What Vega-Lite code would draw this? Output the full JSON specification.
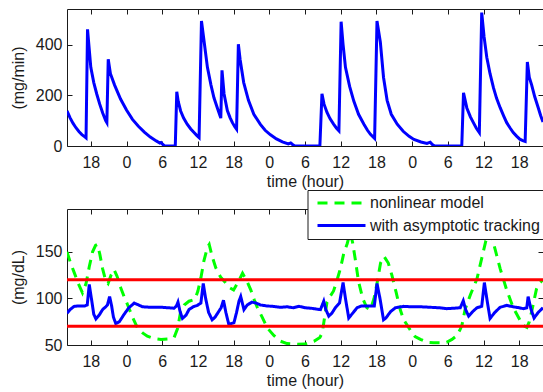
{
  "$schema": "https://vega.github.io/schema/vega-lite/v6.json",
  "autosize": {"type": "pad"},
  "padding": {"left": 9, "top": 8, "right": 0, "bottom": 0},
  "spacing": 63,
  "bounds": "flush",
  "config": {
    "font": "Liberation Sans",
    "view": {"stroke": "#1a1a1a", "strokeWidth": 1},
    "axis": {"domain": false, "grid": false, "tickSize": -5, "tickColor": "#1a1a1a", "tickWidth": 1, "labelFontSize": 16, "labelColor": "#1a1a1a", "titleFontSize": 16, "titleFontWeight": "normal", "titleColor": "#1a1a1a", "labelFont": "Liberation Sans", "titleFont": "Liberation Sans"},
    "axisX": {"labelPadding": 13.5, "titlePadding": 3, "labelFlush": false},
    "axisY": {"labelPadding": 10, "titlePadding": 9}
  },
  "datasets": {
    "infusion": [
      {"hour":14,"rate":138},{"hour":14.5,"rate":112},{"hour":15,"rate":90},{"hour":15.5,"rate":72},{"hour":16,"rate":57},{"hour":16.5,"rate":45},{"hour":17,"rate":36},{"hour":17.2,"rate":32},
      {"hour":17.45,"rate":460},{"hour":18,"rate":310},{"hour":18.5,"rate":250},{"hour":19,"rate":205},{"hour":19.5,"rate":165},{"hour":20,"rate":130},{"hour":20.5,"rate":100},{"hour":20.7,"rate":92},
      {"hour":20.93,"rate":342},{"hour":21.3,"rate":285},{"hour":22,"rate":240},{"hour":23,"rate":185},{"hour":24,"rate":142},{"hour":25,"rate":105},{"hour":26,"rate":78},{"hour":27,"rate":55},{"hour":28,"rate":35},{"hour":29,"rate":20},{"hour":29.6,"rate":12},{"hour":29.8,"rate":14},{"hour":30.1,"rate":6},{"hour":30.4,"rate":0},{"hour":32.2,"rate":0},
      {"hour":32.45,"rate":214},{"hour":32.7,"rate":175},{"hour":33.1,"rate":138},{"hour":33.6,"rate":110},{"hour":34.2,"rate":86},{"hour":34.8,"rate":67},{"hour":35.35,"rate":53},{"hour":35.8,"rate":42},{"hour":36.2,"rate":33},
      {"hour":36.6,"rate":493},{"hour":37,"rate":420},{"hour":37.6,"rate":310},{"hour":38.2,"rate":240},{"hour":38.7,"rate":190},{"hour":39.3,"rate":148},{"hour":39.85,"rate":110},
      {"hour":40.05,"rate":298},{"hour":40.4,"rate":205},{"hour":40.95,"rate":140},{"hour":41.4,"rate":112},{"hour":41.8,"rate":92},{"hour":42.2,"rate":76},{"hour":42.5,"rate":66},
      {"hour":42.8,"rate":401},{"hour":43.1,"rate":340},{"hour":43.7,"rate":250},{"hour":44.5,"rate":180},{"hour":45.4,"rate":125},{"hour":46.5,"rate":85},{"hour":47.3,"rate":62},{"hour":48.2,"rate":44},{"hour":49.2,"rate":28},{"hour":50.2,"rate":16},{"hour":51.2,"rate":8},{"hour":51.6,"rate":12},{"hour":51.9,"rate":6},{"hour":52.3,"rate":0},{"hour":56.5,"rate":0},
      {"hour":56.85,"rate":206},{"hour":57.2,"rate":165},{"hour":57.7,"rate":132},{"hour":58.2,"rate":108},{"hour":58.8,"rate":86},{"hour":59.3,"rate":70},{"hour":59.7,"rate":60},
      {"hour":60.07,"rate":490},{"hour":60.4,"rate":400},{"hour":60.8,"rate":310},{"hour":61.5,"rate":235},{"hour":62.2,"rate":177},{"hour":63,"rate":125},{"hour":63.9,"rate":86},{"hour":64.5,"rate":62},{"hour":65,"rate":46},{"hour":65.7,"rate":30},
      {"hour":66.1,"rate":493},{"hour":66.66,"rate":410},{"hour":67.2,"rate":270},{"hour":67.8,"rate":180},{"hour":68.5,"rate":125},{"hour":69.5,"rate":86},{"hour":70.5,"rate":58},{"hour":71.5,"rate":38},{"hour":72.3,"rate":26},{"hour":73.5,"rate":16},{"hour":74.5,"rate":10},{"hour":75.05,"rate":15},{"hour":75.4,"rate":6},{"hour":75.8,"rate":0},{"hour":80.35,"rate":0},
      {"hour":80.64,"rate":210},{"hour":81.2,"rate":150},{"hour":81.8,"rate":115},{"hour":82.3,"rate":92},{"hour":82.8,"rate":70},{"hour":83.3,"rate":53},
      {"hour":83.7,"rate":526},{"hour":84.1,"rate":430},{"hour":84.55,"rate":350},{"hour":85.1,"rate":285},{"hour":85.67,"rate":230},{"hour":86.2,"rate":188},{"hour":86.8,"rate":151},{"hour":87.4,"rate":118},{"hour":87.9,"rate":92},{"hour":88.5,"rate":70},{"hour":89,"rate":53},{"hour":89.6,"rate":38},{"hour":90.1,"rate":27},{"hour":90.6,"rate":21},{"hour":91,"rate":18},
      {"hour":91.37,"rate":331},{"hour":91.7,"rate":270},{"hour":92.1,"rate":240},{"hour":92.6,"rate":195},{"hour":93.2,"rate":151},{"hour":93.6,"rate":120},{"hour":94,"rate":95}
    ],
    "glucose": [
      {"hour":14,"mgdl":150,"series":"nonlinear model"},{"hour":14.6,"mgdl":138,"series":"nonlinear model"},{"hour":15.2,"mgdl":128,"series":"nonlinear model"},{"hour":15.9,"mgdl":116,"series":"nonlinear model"},{"hour":16.6,"mgdl":106,"series":"nonlinear model"},{"hour":17.2,"mgdl":116,"series":"nonlinear model"},{"hour":17.74,"mgdl":134,"series":"nonlinear model"},{"hour":18.3,"mgdl":150,"series":"nonlinear model"},{"hour":18.8,"mgdl":157,"series":"nonlinear model"},{"hour":19.1,"mgdl":158,"series":"nonlinear model"},{"hour":19.5,"mgdl":148,"series":"nonlinear model"},{"hour":19.98,"mgdl":132,"series":"nonlinear model"},{"hour":20.5,"mgdl":119,"series":"nonlinear model"},{"hour":20.9,"mgdl":116,"series":"nonlinear model"},{"hour":21.4,"mgdl":125,"series":"nonlinear model"},{"hour":21.9,"mgdl":131,"series":"nonlinear model"},{"hour":22.4,"mgdl":124,"series":"nonlinear model"},{"hour":23.06,"mgdl":111,"series":"nonlinear model"},{"hour":23.6,"mgdl":102,"series":"nonlinear model"},{"hour":24.2,"mgdl":93,"series":"nonlinear model"},{"hour":25,"mgdl":80,"series":"nonlinear model"},{"hour":25.86,"mgdl":68,"series":"nonlinear model"},{"hour":26.7,"mgdl":63,"series":"nonlinear model"},{"hour":27.5,"mgdl":59.5,"series":"nonlinear model"},{"hour":28.6,"mgdl":57,"series":"nonlinear model"},{"hour":29.8,"mgdl":56,"series":"nonlinear model"},{"hour":31,"mgdl":56.5,"series":"nonlinear model"},{"hour":32,"mgdl":58,"series":"nonlinear model"},{"hour":32.6,"mgdl":68,"series":"nonlinear model"},{"hour":33.1,"mgdl":86,"series":"nonlinear model"},{"hour":33.7,"mgdl":93,"series":"nonlinear model"},{"hour":34.5,"mgdl":97,"series":"nonlinear model"},{"hour":35.5,"mgdl":99,"series":"nonlinear model"},{"hour":36,"mgdl":108,"series":"nonlinear model"},{"hour":36.5,"mgdl":122,"series":"nonlinear model"},{"hour":37,"mgdl":140,"series":"nonlinear model"},{"hour":37.6,"mgdl":155,"series":"nonlinear model"},{"hour":37.9,"mgdl":158,"series":"nonlinear model"},{"hour":38.4,"mgdl":145,"series":"nonlinear model"},{"hour":39,"mgdl":133,"series":"nonlinear model"},{"hour":39.8,"mgdl":123,"series":"nonlinear model"},{"hour":40.5,"mgdl":118,"series":"nonlinear model"},{"hour":41.2,"mgdl":112,"series":"nonlinear model"},{"hour":42,"mgdl":109,"series":"nonlinear model"},{"hour":42.8,"mgdl":118,"series":"nonlinear model"},{"hour":43.5,"mgdl":127,"series":"nonlinear model"},{"hour":44.2,"mgdl":119,"series":"nonlinear model"},{"hour":44.9,"mgdl":109,"series":"nonlinear model"},{"hour":45.5,"mgdl":98,"series":"nonlinear model"},{"hour":46,"mgdl":90,"series":"nonlinear model"},{"hour":46.8,"mgdl":80,"series":"nonlinear model"},{"hour":47.7,"mgdl":68,"series":"nonlinear model"},{"hour":48.8,"mgdl":60,"series":"nonlinear model"},{"hour":49.9,"mgdl":54,"series":"nonlinear model"},{"hour":51,"mgdl":51.5,"series":"nonlinear model"},{"hour":52.7,"mgdl":50.7,"series":"nonlinear model"},{"hour":54,"mgdl":51,"series":"nonlinear model"},{"hour":55.5,"mgdl":54,"series":"nonlinear model"},{"hour":56.5,"mgdl":58,"series":"nonlinear model"},{"hour":56.9,"mgdl":63,"series":"nonlinear model"},{"hour":57.3,"mgdl":80,"series":"nonlinear model"},{"hour":57.7,"mgdl":96,"series":"nonlinear model"},{"hour":58.3,"mgdl":103,"series":"nonlinear model"},{"hour":58.8,"mgdl":108,"series":"nonlinear model"},{"hour":59.4,"mgdl":120,"series":"nonlinear model"},{"hour":59.95,"mgdl":132,"series":"nonlinear model"},{"hour":60.5,"mgdl":148,"series":"nonlinear model"},{"hour":61.1,"mgdl":159,"series":"nonlinear model"},{"hour":61.6,"mgdl":171,"series":"nonlinear model"},{"hour":62,"mgdl":160,"series":"nonlinear model"},{"hour":62.5,"mgdl":140,"series":"nonlinear model"},{"hour":63,"mgdl":118,"series":"nonlinear model"},{"hour":63.7,"mgdl":100,"series":"nonlinear model"},{"hour":64.4,"mgdl":90,"series":"nonlinear model"},{"hour":65,"mgdl":88,"series":"nonlinear model"},{"hour":65.6,"mgdl":100,"series":"nonlinear model"},{"hour":66.1,"mgdl":116,"series":"nonlinear model"},{"hour":66.7,"mgdl":138,"series":"nonlinear model"},{"hour":67.3,"mgdl":145,"series":"nonlinear model"},{"hour":68,"mgdl":138,"series":"nonlinear model"},{"hour":68.6,"mgdl":125,"series":"nonlinear model"},{"hour":69.3,"mgdl":107,"series":"nonlinear model"},{"hour":70,"mgdl":88,"series":"nonlinear model"},{"hour":70.6,"mgdl":77,"series":"nonlinear model"},{"hour":71.7,"mgdl":66,"series":"nonlinear model"},{"hour":72.5,"mgdl":59,"series":"nonlinear model"},{"hour":73.4,"mgdl":56,"series":"nonlinear model"},{"hour":74.5,"mgdl":53,"series":"nonlinear model"},{"hour":75.6,"mgdl":52.5,"series":"nonlinear model"},{"hour":77,"mgdl":52.5,"series":"nonlinear model"},{"hour":77.8,"mgdl":53,"series":"nonlinear model"},{"hour":78.7,"mgdl":56,"series":"nonlinear model"},{"hour":79.5,"mgdl":60,"series":"nonlinear model"},{"hour":80.1,"mgdl":67,"series":"nonlinear model"},{"hour":80.4,"mgdl":72,"series":"nonlinear model"},{"hour":80.9,"mgdl":88,"series":"nonlinear model"},{"hour":81.8,"mgdl":104,"series":"nonlinear model"},{"hour":82.9,"mgdl":121,"series":"nonlinear model"},{"hour":83.7,"mgdl":143,"series":"nonlinear model"},{"hour":84.4,"mgdl":162,"series":"nonlinear model"},{"hour":85,"mgdl":171,"series":"nonlinear model"},{"hour":85.5,"mgdl":163,"series":"nonlinear model"},{"hour":85.9,"mgdl":154,"series":"nonlinear model"},{"hour":86.8,"mgdl":132,"series":"nonlinear model"},{"hour":87.9,"mgdl":109,"series":"nonlinear model"},{"hour":89,"mgdl":90,"series":"nonlinear model"},{"hour":90.1,"mgdl":77,"series":"nonlinear model"},{"hour":90.7,"mgdl":71,"series":"nonlinear model"},{"hour":91.3,"mgdl":69,"series":"nonlinear model"},{"hour":91.7,"mgdl":75,"series":"nonlinear model"},{"hour":92.1,"mgdl":86,"series":"nonlinear model"},{"hour":92.9,"mgdl":110,"series":"nonlinear model"},{"hour":93.5,"mgdl":117,"series":"nonlinear model"},{"hour":94,"mgdl":120,"series":"nonlinear model"},
      {"hour":14,"mgdl":84,"series":"with asymptotic tracking"},{"hour":14.5,"mgdl":88,"series":"with asymptotic tracking"},{"hour":15.2,"mgdl":91.5,"series":"with asymptotic tracking"},{"hour":16,"mgdl":92,"series":"with asymptotic tracking"},{"hour":17,"mgdl":92,"series":"with asymptotic tracking"},{"hour":17.4,"mgdl":93,"series":"with asymptotic tracking"},{"hour":17.74,"mgdl":115,"series":"with asymptotic tracking"},{"hour":18.1,"mgdl":100,"series":"with asymptotic tracking"},{"hour":18.5,"mgdl":83,"series":"with asymptotic tracking"},{"hour":18.86,"mgdl":78,"series":"with asymptotic tracking"},{"hour":19.4,"mgdl":82,"series":"with asymptotic tracking"},{"hour":19.98,"mgdl":88,"series":"with asymptotic tracking"},{"hour":20.5,"mgdl":91,"series":"with asymptotic tracking"},{"hour":20.8,"mgdl":93,"series":"with asymptotic tracking"},{"hour":21.16,"mgdl":102,"series":"with asymptotic tracking"},{"hour":21.5,"mgdl":92,"series":"with asymptotic tracking"},{"hour":21.8,"mgdl":80,"series":"with asymptotic tracking"},{"hour":22.2,"mgdl":73,"series":"with asymptotic tracking"},{"hour":22.8,"mgdl":75,"series":"with asymptotic tracking"},{"hour":23.6,"mgdl":83,"series":"with asymptotic tracking"},{"hour":24.4,"mgdl":90,"series":"with asymptotic tracking"},{"hour":25.3,"mgdl":95,"series":"with asymptotic tracking"},{"hour":26,"mgdl":93,"series":"with asymptotic tracking"},{"hour":26.7,"mgdl":91,"series":"with asymptotic tracking"},{"hour":28,"mgdl":90.5,"series":"with asymptotic tracking"},{"hour":29.8,"mgdl":90.5,"series":"with asymptotic tracking"},{"hour":31,"mgdl":90,"series":"with asymptotic tracking"},{"hour":32,"mgdl":89.5,"series":"with asymptotic tracking"},{"hour":32.4,"mgdl":92,"series":"with asymptotic tracking"},{"hour":32.65,"mgdl":96,"series":"with asymptotic tracking"},{"hour":33,"mgdl":86,"series":"with asymptotic tracking"},{"hour":33.4,"mgdl":78.5,"series":"with asymptotic tracking"},{"hour":34,"mgdl":82,"series":"with asymptotic tracking"},{"hour":34.5,"mgdl":88,"series":"with asymptotic tracking"},{"hour":35.2,"mgdl":91,"series":"with asymptotic tracking"},{"hour":35.9,"mgdl":92.5,"series":"with asymptotic tracking"},{"hour":36.5,"mgdl":95,"series":"with asymptotic tracking"},{"hour":36.9,"mgdl":116,"series":"with asymptotic tracking"},{"hour":37.3,"mgdl":100,"series":"with asymptotic tracking"},{"hour":37.8,"mgdl":85,"series":"with asymptotic tracking"},{"hour":38.4,"mgdl":77,"series":"with asymptotic tracking"},{"hour":38.9,"mgdl":80,"series":"with asymptotic tracking"},{"hour":39.5,"mgdl":86,"series":"with asymptotic tracking"},{"hour":39.9,"mgdl":90,"series":"with asymptotic tracking"},{"hour":40.3,"mgdl":98,"series":"with asymptotic tracking"},{"hour":40.7,"mgdl":85,"series":"with asymptotic tracking"},{"hour":41.2,"mgdl":72,"series":"with asymptotic tracking"},{"hour":42.06,"mgdl":74,"series":"with asymptotic tracking"},{"hour":42.5,"mgdl":85,"series":"with asymptotic tracking"},{"hour":42.9,"mgdl":97,"series":"with asymptotic tracking"},{"hour":43.2,"mgdl":102,"series":"with asymptotic tracking"},{"hour":43.74,"mgdl":88,"series":"with asymptotic tracking"},{"hour":44.3,"mgdl":93,"series":"with asymptotic tracking"},{"hour":45.1,"mgdl":96,"series":"with asymptotic tracking"},{"hour":45.8,"mgdl":95,"series":"with asymptotic tracking"},{"hour":46.5,"mgdl":93,"series":"with asymptotic tracking"},{"hour":47.5,"mgdl":92,"series":"with asymptotic tracking"},{"hour":48.5,"mgdl":91.5,"series":"with asymptotic tracking"},{"hour":49.9,"mgdl":90.5,"series":"with asymptotic tracking"},{"hour":51,"mgdl":91,"series":"with asymptotic tracking"},{"hour":52,"mgdl":90,"series":"with asymptotic tracking"},{"hour":53,"mgdl":91.5,"series":"with asymptotic tracking"},{"hour":54,"mgdl":90,"series":"with asymptotic tracking"},{"hour":55,"mgdl":89.5,"series":"with asymptotic tracking"},{"hour":56,"mgdl":88.5,"series":"with asymptotic tracking"},{"hour":56.6,"mgdl":88,"series":"with asymptotic tracking"},{"hour":57.15,"mgdl":97,"series":"with asymptotic tracking"},{"hour":57.5,"mgdl":88,"series":"with asymptotic tracking"},{"hour":58,"mgdl":81,"series":"with asymptotic tracking"},{"hour":58.5,"mgdl":84,"series":"with asymptotic tracking"},{"hour":59.1,"mgdl":90,"series":"with asymptotic tracking"},{"hour":59.8,"mgdl":95,"series":"with asymptotic tracking"},{"hour":60.4,"mgdl":117,"series":"with asymptotic tracking"},{"hour":60.8,"mgdl":100,"series":"with asymptotic tracking"},{"hour":61.35,"mgdl":79,"series":"with asymptotic tracking"},{"hour":62,"mgdl":84,"series":"with asymptotic tracking"},{"hour":62.75,"mgdl":90,"series":"with asymptotic tracking"},{"hour":63.5,"mgdl":92,"series":"with asymptotic tracking"},{"hour":64.4,"mgdl":92,"series":"with asymptotic tracking"},{"hour":65.2,"mgdl":92,"series":"with asymptotic tracking"},{"hour":65.65,"mgdl":92,"series":"with asymptotic tracking"},{"hour":66.1,"mgdl":116,"series":"with asymptotic tracking"},{"hour":66.6,"mgdl":100,"series":"with asymptotic tracking"},{"hour":67.2,"mgdl":77,"series":"with asymptotic tracking"},{"hour":67.6,"mgdl":79,"series":"with asymptotic tracking"},{"hour":68.4,"mgdl":86,"series":"with asymptotic tracking"},{"hour":69.2,"mgdl":90,"series":"with asymptotic tracking"},{"hour":70.6,"mgdl":91.5,"series":"with asymptotic tracking"},{"hour":72,"mgdl":91,"series":"with asymptotic tracking"},{"hour":73.5,"mgdl":91,"series":"with asymptotic tracking"},{"hour":75,"mgdl":90.5,"series":"with asymptotic tracking"},{"hour":76.5,"mgdl":90,"series":"with asymptotic tracking"},{"hour":77.85,"mgdl":89,"series":"with asymptotic tracking"},{"hour":79,"mgdl":89.5,"series":"with asymptotic tracking"},{"hour":80.1,"mgdl":90,"series":"with asymptotic tracking"},{"hour":80.6,"mgdl":97.5,"series":"with asymptotic tracking"},{"hour":81,"mgdl":88,"series":"with asymptotic tracking"},{"hour":81.5,"mgdl":81,"series":"with asymptotic tracking"},{"hour":82.2,"mgdl":86,"series":"with asymptotic tracking"},{"hour":82.9,"mgdl":90,"series":"with asymptotic tracking"},{"hour":83.7,"mgdl":91.5,"series":"with asymptotic tracking"},{"hour":84.15,"mgdl":117,"series":"with asymptotic tracking"},{"hour":84.6,"mgdl":98,"series":"with asymptotic tracking"},{"hour":85.1,"mgdl":78.5,"series":"with asymptotic tracking"},{"hour":85.9,"mgdl":85,"series":"with asymptotic tracking"},{"hour":86.8,"mgdl":90.5,"series":"with asymptotic tracking"},{"hour":87.9,"mgdl":92.5,"series":"with asymptotic tracking"},{"hour":89,"mgdl":91,"series":"with asymptotic tracking"},{"hour":90,"mgdl":90,"series":"with asymptotic tracking"},{"hour":90.7,"mgdl":89,"series":"with asymptotic tracking"},{"hour":91.27,"mgdl":90,"series":"with asymptotic tracking"},{"hour":91.5,"mgdl":102,"series":"with asymptotic tracking"},{"hour":92,"mgdl":88,"series":"with asymptotic tracking"},{"hour":92.5,"mgdl":79,"series":"with asymptotic tracking"},{"hour":93.2,"mgdl":85,"series":"with asymptotic tracking"},{"hour":94,"mgdl":90,"series":"with asymptotic tracking"}
    ],
    "limits": [{"level": 70}, {"level": 120}]
  },
  "vconcat": [
    {
      "width": 476,
      "height": 137,
      "data": {"name": "infusion"},
      "layer": [
        {
          "mark": {"type": "line", "color": "#0000ff", "strokeWidth": 3, "clip": true},
          "encoding": {
            "x": {"field": "hour", "type": "quantitative", "scale": {"domain": [14, 94], "nice": false, "zero": false},
                  "axis": {"values": [18,24,30,36,42,48,54,60,66,72,78,84,90], "labelExpr": "'' + (datum.value % 24)", "title": "time (hour)"}},
            "y": {"field": "rate", "type": "quantitative", "scale": {"domain": [0, 540], "nice": false},
                  "axis": {"values": [0, 200, 400], "title": "(mg/min)"}}
          }
        },
        {
          "mark": {"type": "line", "opacity": 0, "clip": true},
          "encoding": {
            "x": {"field": "hour", "type": "quantitative", "scale": {"domain": [14, 94], "nice": false, "zero": false},
                  "axis": {"orient": "top", "values": [18,24,30,36,42,48,54,60,66,72,78,84,90], "labels": false, "title": null}},
            "y": {"field": "rate", "type": "quantitative", "scale": {"domain": [0, 540], "nice": false},
                  "axis": {"orient": "right", "values": [0, 200, 400], "labels": false, "title": null}}
          }
        }
      ],
      "resolve": {"axis": {"x": "independent", "y": "independent"}}
    },
    {
      "width": 476,
      "height": 136,
      "layer": [
        {
          "data": {"name": "glucose"},
          "mark": {"type": "line", "strokeWidth": 3, "clip": true},
          "encoding": {
            "x": {"field": "hour", "type": "quantitative", "scale": {"domain": [14, 94], "nice": false, "zero": false},
                  "axis": {"values": [18,24,30,36,42,48,54,60,66,72,78,84,90], "labelExpr": "'' + (datum.value % 24)", "title": "time (hour)"}},
            "y": {"field": "mgdl", "type": "quantitative", "scale": {"domain": [50, 196], "nice": false, "zero": false},
                  "axis": {"values": [50, 100, 150], "title": "(mg/dL)"}},
            "color": {"field": "series", "type": "nominal",
                      "scale": {"domain": ["nonlinear model", "with asymptotic tracking"], "range": ["#00ff00", "#0000ff"]},
                      "legend": {"orient": "none", "legendX": 240.5, "legendY": -19, "title": null, "symbolType": "stroke", "symbolSize": 2304, "symbolStrokeWidth": 3, "clipHeight": 20, "rowPadding": 2.5, "padding": 3, "symbolOffset": 5.5, "labelOffset": 3, "labelLimit": 400, "labelFontSize": 16, "labelFont": "Liberation Sans", "labelColor": "#1a1a1a", "fillColor": "white", "strokeColor": "#1a1a1a"}},
            "strokeDash": {"field": "series", "type": "nominal",
                      "scale": {"domain": ["nonlinear model", "with asymptotic tracking"], "range": [[10, 7], [1, 0]]},
                      "legend": {"orient": "none", "legendX": 240.5, "legendY": -19, "title": null, "symbolType": "stroke", "symbolSize": 2304, "symbolStrokeWidth": 3, "clipHeight": 20, "rowPadding": 2.5, "padding": 3, "symbolOffset": 5.5, "labelOffset": 3, "labelLimit": 400, "labelFontSize": 16, "labelFont": "Liberation Sans", "labelColor": "#1a1a1a", "fillColor": "white", "strokeColor": "#1a1a1a"}}
          }
        },
        {
          "data": {"name": "limits"},
          "mark": {"type": "rule", "color": "#ff0000", "strokeWidth": 3},
          "encoding": {
            "y": {"field": "level", "type": "quantitative", "scale": {"domain": [50, 196], "nice": false, "zero": false}, "axis": null}
          }
        },
        {
          "data": {"name": "glucose"},
          "mark": {"type": "line", "opacity": 0, "clip": true},
          "encoding": {
            "x": {"field": "hour", "type": "quantitative", "scale": {"domain": [14, 94], "nice": false, "zero": false},
                  "axis": {"orient": "top", "values": [18,24,30,36,42,48,54,60,66,72,78,84,90], "labels": false, "title": null}},
            "y": {"field": "mgdl", "type": "quantitative", "scale": {"domain": [50, 196], "nice": false, "zero": false},
                  "axis": {"orient": "right", "values": [50, 100, 150], "labels": false, "title": null}}
          }
        }
      ],
      "resolve": {"axis": {"x": "independent", "y": "independent"}}
    }
  ],
  "resolve": {"scale": {"color": "independent", "strokeDash": "independent"}}
}
